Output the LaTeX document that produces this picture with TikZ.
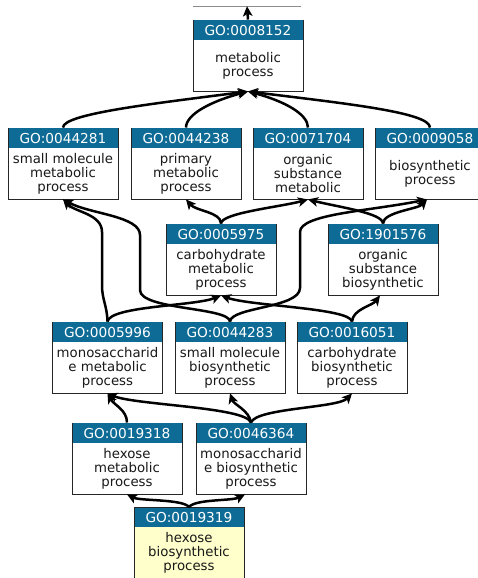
\documentclass[tikz,border=0pt]{standalone}
\usepackage{fontspec}
\setmainfont{DejaVu Sans}
\usetikzlibrary{arrows.meta}
\definecolor{gohead}{RGB}{14,107,150}
\definecolor{goyellow}{RGB}{255,255,204}
\newcommand{\gobox}[6]{%
  \node[boxbg, fill=#6] (#1) at (#2,#3+35.5) {};
  \node[headbar] (#1h) at (#2,#3+10.2) {#4};
  \node[bodytext] (#1t) at (#2,#3+45.5) {#5};
}
\begin{document}
\begin{tikzpicture}[x=1pt,y=-1pt,
  boxbg/.style={draw=black!85, line width=0.9pt, minimum width=110pt, minimum height=71pt, inner sep=0pt},
  headbar/.style={fill=gohead, minimum width=109pt, minimum height=19.5pt, inner sep=0pt, text=white, font=\fontsize{13.7}{14}\selectfont},
  bodytext/.style={align=center, inner sep=0pt, text=black!90, font=\fontsize{13.3}{14}\selectfont},
  edge/.style={line width=2.5pt, -{Stealth[length=10pt,width=9.5pt,inset=2.5pt]}}
]
\useasboundingbox (0,0) rectangle (478,578);
\node[minimum width=108pt, minimum height=40pt, inner sep=0pt] (b8150) at (247,-14) {};
\draw[black!45, line width=0.8pt] (b8150.south west) -- (b8150.south east);
\gobox{b8152}{248}{20}{GO:0008152}{metabolic\\process}{white}
\gobox{b44281}{63}{128}{GO:0044281}{small molecule\\metabolic\\process}{white}
\gobox{b44238}{186}{128}{GO:0044238}{primary\\metabolic\\process}{white}
\gobox{b71704}{308}{128}{GO:0071704}{organic\\substance\\metabolic}{white}
\gobox{b9058}{430}{128}{GO:0009058}{biosynthetic\\process}{white}
\gobox{b5975}{221}{224}{GO:0005975}{carbohydrate\\metabolic\\process}{white}
\gobox{b1901576}{383}{224}{GO:1901576}{organic\\substance\\biosynthetic}{white}
\gobox{b5996}{107.5}{322}{GO:0005996}{monosaccharid\\e metabolic\\process}{white}
\gobox{b44283}{230}{322}{GO:0044283}{small molecule\\biosynthetic\\process}{white}
\gobox{b16051}{352}{322}{GO:0016051}{carbohydrate\\biosynthetic\\process}{white}
\gobox{b19318}{127}{423}{GO:0019318}{hexose\\metabolic\\process}{white}
\gobox{b46364}{251}{423}{GO:0046364}{monosaccharid\\e biosynthetic\\process}{white}
\gobox{b19319}{189}{507.5}{GO:0019319}{hexose\\biosynthetic\\process}{goyellow}
% edges
\draw[edge] (b8152.north) -- (b8150.south);
\draw[edge] (b44281.north) .. controls (63,114) and (150,104) .. (b8152.south);
\draw[edge] (b44238.north) .. controls (186,114) and (212,101) .. (b8152.south);
\draw[edge] (b71704.north) .. controls (308,114) and (284,101) .. (b8152.south);
\draw[edge] (b9058.north) .. controls (430,112) and (340,103) .. (b8152.south);
\draw[edge] (b5975.north) .. controls (221,212) and (196,211) .. (b44238.south);
\draw[edge] (b5975.north) .. controls (221,213) and (280,207) .. (b71704.south);
\draw[edge] (b1901576.north) .. controls (383,213) and (338,207) .. (b71704.south);
\draw[edge] (b1901576.north) .. controls (383,212) and (418,209) .. ([xshift=-3pt]b9058.south);
\draw[edge] (b44283.north) .. controls (231,307) and (300,308) .. (300,288) -- (300,232) .. controls (300,214) and (370,211) .. ([xshift=-3pt]b9058.south);
\draw[edge] (b44283.north) .. controls (229,307) and (140,310) .. (140,290) -- (140,235) .. controls (140,216) and (90,214) .. (b44281.south);
\draw[edge] (b5996.north) .. controls (107,305) and (102,300) .. (102,285) -- (102,232) .. controls (102,214) and (75,212) .. (b44281.south);
\draw[edge] (b5996.north) .. controls (110,306) and (195,306) .. (b5975.south);
\draw[edge] (b16051.north) .. controls (350,308) and (250,306) .. (b5975.south);
\draw[edge] (b16051.north) .. controls (353,309) and (372,306) .. ([xshift=-3pt]b1901576.south);
\draw[edge] (b19318.north) .. controls (127,410) and (114,405) .. (b5996.south);
\draw[edge] (b46364.north) .. controls (246,407) and (135,405) .. (b5996.south);
\draw[edge] (b46364.north) .. controls (249,410) and (234,405) .. (b44283.south);
\draw[edge] (b46364.north) .. controls (256,408) and (338,408) .. (b16051.south);
\draw[edge] (b19319.north) .. controls (183,499) and (140,501) .. (b19318.south);
\draw[edge] (b19319.north) .. controls (195,499) and (232,501) .. ([xshift=-6pt]b46364.south);
\end{tikzpicture}
\end{document}
